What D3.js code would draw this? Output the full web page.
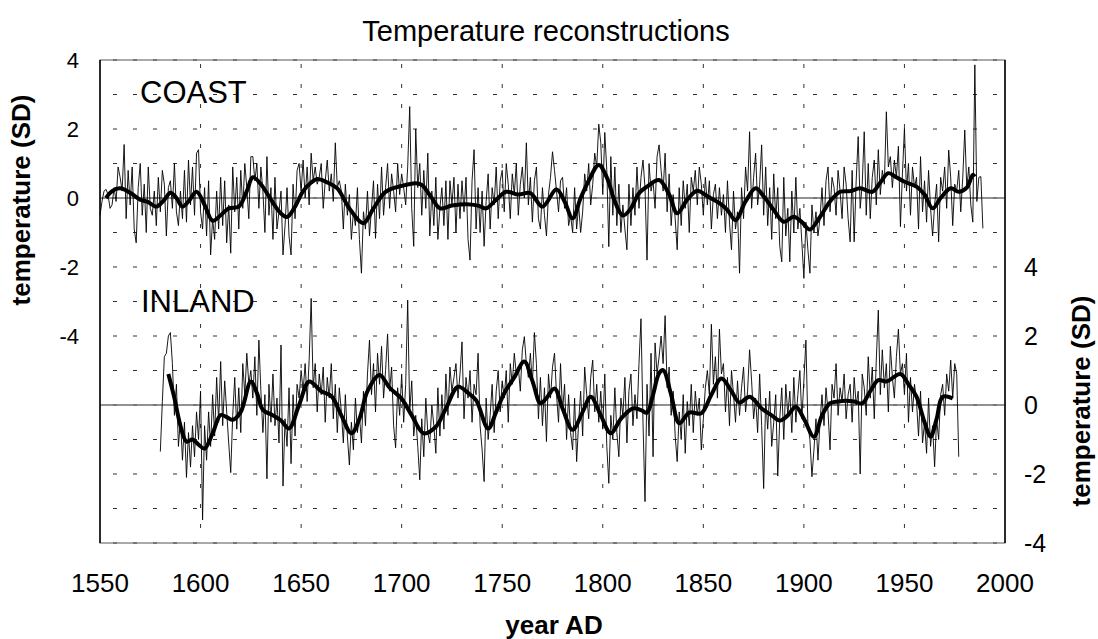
<!DOCTYPE html>
<html lang="en">
<head>
    <meta charset="UTF-8">
    <title>Temperature reconstructions</title>
    <script src="https://cdn.jsdelivr.net/npm/d3@7"></script>
    <style>
        body { margin: 0; background: #fff; }
        text { font-family: Arial, "Liberation Sans", sans-serif; fill: #000; }
    </style>
</head>
<body>
    <div id="chart"></div>
    <script>
        // annual values (SD), first year + one value per year
        const coastStart = 1550;
        const coastAnnual = [
            -0.5, -0.1, 0.2, 0.25, 0.1, -0.3, -0.2, 0.3, -0.1, 0.9,
            0.6, 0.2, 1.55, -0.6, 0.8, -0.2, 0.9, -0.9, -1.3, 0.3,
            1.0, -0.5, 0.4, -1.0, 0.9, -0.3, -0.5, 0.2, -0.8, 0.6,
            -0.4, 0.8, 0.4, -1.1, 0.3, 0.5, -0.3, 1.0, -0.4, -0.8,
            0.2, -0.6, 0.8, -0.7, 1.1, -0.2, 0.9, -0.5, 1.3, 1.4,
            -0.4, -0.9, 0.3, -1.1, 0.5, -1.65, -0.6, -1.2, 0.2, -0.9,
            0.6, -0.8, 0.5, -1.3, -0.2, -1.6, 0.9, -0.4, 0.6, -0.9,
            0.8, -0.3, 1.0, 0.3, -0.6, 1.2, 1.2, 0.5, 1.0, -0.3,
            0.9, 0.2, -1.0, 1.2, -0.5, 0.3, -1.2, 0.6, -0.9, -0.4,
            0.2, -1.65, -0.8, 0.3, -1.1, -1.65, 0.4, -0.6, 0.8, 1.0,
            0.2, 1.1, 0.0, 0.9, -0.2, 1.3, 0.5, 0.9, 0.4, 0.6,
            1.0, -0.3, 0.5, 1.1, 0.2, 0.7, -0.1, 1.6, 0.3, 0.5,
            0.2, -0.9, 0.4, -0.5, 0.1, -1.2, -0.4, -0.8, 0.3, -1.2,
            -2.18, -0.4, -0.9, 0.2, -1.1, -0.3, 0.5, -1.17, 0.4, -0.6,
            0.9, -0.5, 0.3, 1.0, -0.3, 0.7, 0.2, -0.4, 1.0, 0.1,
            0.7, 0.3, -0.2, 0.9, 2.65, -0.3, -1.4, 2.0, 0.3, 1.0,
            -0.5, 0.8, -0.3, 1.3, -1.1, 0.2, -0.8, 0.6, -1.2, -0.3,
            0.3, -0.8, 0.5, -1.2, 0.5, -0.2, 0.6, -1.0, 0.4, -0.6,
            0.5, -0.4, 0.6, -1.2, -1.8, 0.5, 1.4, -0.9, 0.3, -1.0,
            0.2, -1.4, -0.1, 0.7, -0.9, 0.3, -0.2, 0.9, -0.6, 0.5,
            0.8, -0.4, 1.0, 0.4, -0.6, 0.7, 0.1, 1.0, -0.5, 0.4,
            0.9, 0.0, 1.6, -0.2, 0.6, -0.7, 0.5, 0.9, -0.6, -0.9,
            0.3, -0.5, -1.1, 0.1, 0.6, 1.34, 0.8, 0.2, -0.4, 0.5,
            0.6, -0.3, 0.3, -0.8, -0.5, -1.0, 0.3, -0.9, -0.2, -1.0,
            -0.4, 0.7, 0.2, 1.0, -0.2, 0.4, 1.3, 0.9, 2.14, 1.6,
            0.1, 1.9, 0.8, -1.41, 1.2, -0.5, 0.9, -0.8, 0.4, -1.0,
            -0.2, -0.9, -1.5, 0.4, -0.8, 0.3, -0.5, 0.9, -0.3, 0.6,
            1.1, 0.3, -1.8, 1.0, 0.2, 0.5, -0.3, 1.2, 1.54, 0.8,
            0.2, 1.3, -0.4, 0.7, -0.8, 0.1, -0.6, -1.5, 0.3, -0.8,
            0.5, -0.3, 0.4, -1.0, 0.6, 0.2, 0.8, -0.2, 0.9, 0.4,
            -0.5, 0.6, -0.2, 0.5, -0.9, 0.1, 0.4, -0.6, 0.3, -0.5,
            0.1, -1.0, 0.5, -0.7, -1.5, 0.2, -0.9, -0.4, -2.18, 0.3,
            -0.6, 0.9, 0.2, 1.92, -0.3, 0.6, 1.3, -0.2, 0.4, 1.54,
            -0.5, 0.9, -0.8, 0.3, -1.2, 0.7, -0.6, 0.3, -1.4, -1.85,
            0.6, -1.1, -0.3, -1.85, 0.2, -1.0, 0.6, -0.9, -0.3, -1.3,
            -2.33, -0.7, -1.5, -2.18, -0.2, -1.0, -0.4, -1.1, -0.6, 0.3,
            -0.8, 0.5, 0.9, -0.4, 0.6, 0.3, -0.5, 0.8, 0.2, -0.6,
            0.9, 0.4, -0.6, -1.27, 0.8, -1.27, 0.5, 1.78, -0.3, 0.4,
            1.92, -0.5, 1.0, -0.6, 0.6, 1.1, -0.2, 1.4, 0.1, 0.8,
            0.4, 2.5, 0.9, 1.2, 0.3, 1.1, 0.6, 1.5, -0.83, 0.7,
            2.02, 0.2, 1.0, -0.5, 0.9, 0.3, 0.6, -0.9, 1.2, -0.4,
            0.5, -0.7, 0.8, -0.3, -1.1, -0.2, 0.4, -1.27, 0.6, 0.2,
            0.9, -0.3, 1.39, 0.6, -0.8, 0.4, 0.2, 0.8, -0.4, 0.6,
            1.97, 0.3, 0.9, -0.2, -0.7, 3.86, -0.1, 0.6, 0.62, -0.88
        ];

        const inlandStart = 1580;
        const inlandAnnual = [
            -1.35, 0.1, 1.4, 1.5, 2.0, 2.1, 1.2, -0.3, 0.6, -1.2,
            -0.4, -1.6, -0.5, -2.1, -0.8, -1.8, -0.6, -1.5, -0.2, -1.0,
            0.4, -3.33, -0.6, -1.6, -0.2, -1.2, 0.3, -0.9, 0.8, -0.5,
            1.26, -0.6, 0.7, -0.2, -1.1, -1.96, -0.3, 0.8, -0.7, 0.5,
            -0.8, 1.2, 0.3, 1.5, 0.6, 1.0, 0.2, 1.4, -0.3, 1.88,
            0.4, -0.8, 0.3, -2.14, 0.6, -0.5, 0.9, -0.6, 0.2, -1.1,
            1.74, -2.35, -0.4, -1.2, 0.5, -1.7, 0.3, -0.9, 0.6, 0.2,
            1.0, 0.4, 1.2, 0.1, 1.3, 3.09, 0.5, 1.2, -0.2, 0.9,
            0.3, 1.1, -0.5, 0.8, 0.2, 1.2, -0.4, 0.6, -0.8, 0.5,
            -0.2, -1.1, 0.3, -0.9, -1.74, -0.5, -1.3, 0.2, -0.8, -0.3,
            -1.1, 0.4, -0.6, 0.9, 1.88, 0.3, 1.2, -0.2, 1.5, 0.6,
            1.7, 0.2, 1.0, 2.06, 0.4, 1.1, -0.6, -1.24, 0.5, -0.3,
            0.9, -0.5, 0.6, 3.04, -0.2, 0.7, -0.9, -0.3, -1.2, -2.17,
            -0.4, -1.5, 0.2, -0.8, -1.1, 0.0, -0.6, -1.4, 0.5, -0.9,
            0.3, -0.7, 0.9, -0.3, 1.1, 0.4, 0.8, 1.2, 0.2, 0.9,
            1.83, -0.4, 0.8, 0.2, 1.0, -0.5, 0.6, 0.3, 1.5, -0.6,
            -1.3, -2.22, 0.2, -1.0, -0.3, 0.6, -0.8, 0.4, 1.0, -0.2,
            0.7, 0.2, 1.0, -0.5, 1.2, 0.6, 1.5, 0.9, 1.1, 0.4,
            1.6, 1.98, 1.2, 0.8, 1.5, 0.6, 2.1, 1.2, -0.4, 0.8,
            -0.6, 0.5, -1.06, 0.9, 0.2, 1.1, 1.5, 0.3, -0.5, 1.2,
            -0.2, 0.6, -1.0, 0.3, -0.8, -1.3, 0.2, -1.64, -0.5, 0.4,
            -0.9, 1.1, 0.3, -0.4, 0.8, 1.3, -0.2, 0.6, -0.5, 0.4,
            -0.7, 0.9, -1.2, -2.27, -0.3, -1.0, 0.5, -0.8, -1.5, 0.2,
            -0.3, 0.8, -1.1, 0.4, 0.9, -0.6, 0.3, -0.4, 1.2, 2.5,
            -0.5, -2.8, 0.6, -0.9, 1.5, -1.5, 1.8, 0.9, 1.4, 2.0,
            1.2, 2.59, 0.5, 1.1, -0.3, 0.4, -0.9, -1.64, -0.2, -1.0,
            0.3, -1.4, 0.1, -0.6, 0.6, -0.8, 0.4, -0.3, 0.2, -1.3,
            -0.4, 0.5, 1.0, 0.3, 2.34, 0.6, 1.4, 0.2, 2.2, 0.9,
            1.2, -0.2, 0.8, -0.6, 1.0, 0.3, -0.5, 0.7, -0.3, 0.5,
            1.1, -0.2, 0.4, 1.6, 0.7, -0.4, 0.2, -0.8, 0.9, -0.6,
            -2.42, 0.2, -0.7, 0.4, -1.2, -0.5, 0.3, -2.06, -0.4, 0.5,
            -1.0, 0.6, -0.3, 0.4, -0.8, 0.8, -0.5, 0.3, 1.0, -0.4,
            0.7, 1.88, -0.6, -1.0, -2.08, -1.3, -0.4, -1.6, -0.5, 0.3,
            -0.6, 0.5, -0.2, -1.3, 0.6, 0.2, 1.2, -0.3, 0.5, 0.1,
            0.9, -0.4, 0.3, 0.6, -0.5, 0.8, 0.0, 0.4, -2.0, 0.9,
            0.5, -0.3, 1.4, 0.2, 1.1, -0.4, 1.3, 2.75, 0.3, 1.6,
            0.5, 1.2, -0.2, 1.7, 0.8, 0.2, 1.4, 2.2, 0.9, 1.2,
            0.3, 1.5, -0.5, 0.8, -0.2, 0.6, 0.1, -0.9, 0.4, -1.1,
            -0.5, -1.4, 0.2, -1.2, -0.6, -1.79, -0.4, -1.0, 0.3, 0.6,
            -0.3, 0.9, 0.4, 1.3, 0.2, 1.2, 0.9, -1.5
        ];

        // smoothed curves, read as knots [year, value]
        const coastSmooth = [
            [1553, 0.0], [1556, 0.2], [1560, 0.28], [1565, 0.15], [1570, -0.05], [1574, -0.12],
            [1578, -0.25], [1582, -0.05], [1585, 0.15], [1588, 0.0], [1591, -0.25], [1594, -0.1],
            [1598, 0.18], [1602, -0.2], [1606, -0.66], [1610, -0.5], [1614, -0.3], [1619, -0.25],
            [1623, 0.2], [1626, 0.6], [1630, 0.4], [1635, -0.05], [1640, -0.45], [1643, -0.55],
            [1647, -0.25], [1651, 0.2], [1655, 0.45], [1658, 0.55], [1663, 0.45], [1668, 0.28],
            [1674, -0.3], [1681, -0.73], [1686, -0.3], [1692, 0.18], [1700, 0.35], [1707, 0.43],
            [1710, 0.38], [1715, 0.0], [1719, -0.3], [1725, -0.22], [1732, -0.18], [1738, -0.22],
            [1742, -0.3], [1747, -0.05], [1752, 0.18], [1758, 0.1], [1764, 0.14], [1770, -0.25],
            [1777, 0.25], [1781, -0.1], [1785, -0.59], [1789, 0.0], [1793, 0.5], [1798, 0.96],
            [1802, 0.6], [1806, -0.1], [1810, -0.51], [1814, -0.3], [1818, 0.14], [1822, 0.33],
            [1828, 0.52], [1833, 0.1], [1837, -0.44], [1842, -0.05], [1847, 0.21], [1852, 0.05],
            [1858, -0.15], [1862, -0.35], [1866, -0.64], [1871, -0.1], [1876, 0.28], [1880, 0.05],
            [1885, -0.35], [1890, -0.69], [1895, -0.54], [1899, -0.7], [1903, -0.91], [1908, -0.55],
            [1913, -0.1], [1918, 0.18], [1923, 0.2], [1928, 0.28], [1934, 0.18], [1938, 0.45],
            [1942, 0.72], [1946, 0.6], [1950, 0.47], [1956, 0.33], [1960, 0.1], [1964, -0.3],
            [1968, 0.0], [1973, 0.28], [1977, 0.18], [1981, 0.3], [1984, 0.67], [1985, 0.62]
        ];

        const inlandSmooth = [
            [1584, 0.9], [1587, 0.2], [1590, -0.6], [1593, -1.06], [1596, -1.0], [1599, -1.15],
            [1602, -1.26], [1606, -0.82], [1610, -0.29], [1613, -0.35], [1616, -0.43], [1620, -0.2],
            [1625, 0.68], [1628, 0.35], [1631, -0.14], [1636, -0.3], [1640, -0.45], [1644, -0.68],
            [1649, 0.0], [1654, 0.68], [1660, 0.4], [1665, 0.26], [1670, -0.3], [1675, -0.82],
            [1679, -0.4], [1683, 0.4], [1689, 0.87], [1694, 0.5], [1700, 0.18], [1705, -0.3],
            [1711, -0.82], [1717, -0.63], [1722, -0.1], [1728, 0.53], [1733, 0.35], [1737, 0.14],
            [1743, -0.68], [1747, -0.2], [1751, 0.34], [1756, 0.8], [1761, 1.26], [1765, 0.7],
            [1769, 0.05], [1772, 0.2], [1776, 0.48], [1780, -0.1], [1785, -0.72], [1790, -0.2],
            [1794, 0.24], [1799, -0.3], [1804, -0.82], [1809, -0.4], [1815, -0.1], [1819, -0.15],
            [1822, -0.22], [1825, 0.3], [1828, 0.92], [1830, 1.01], [1834, 0.3], [1838, -0.53],
            [1843, -0.22], [1849, -0.24], [1854, 0.3], [1859, 0.77], [1864, 0.4], [1868, 0.07],
            [1873, 0.24], [1879, -0.1], [1884, -0.3], [1888, -0.45], [1892, -0.3], [1896, -0.05],
            [1900, -0.4], [1905, -0.92], [1909, -0.3], [1913, 0.05], [1917, 0.1], [1921, 0.12],
            [1925, 0.1], [1929, 0.05], [1933, 0.4], [1937, 0.72], [1941, 0.68], [1948, 0.9],
            [1952, 0.6], [1956, 0.24], [1960, -0.5], [1963, -0.92], [1966, -0.4], [1969, 0.24],
            [1974, 0.19]
        ];

        const xTicks = [1550, 1600, 1650, 1700, 1750, 1800, 1850, 1900, 1950, 2000];
        const leftTicks = [4, 2, 0, -2, -4];
        const rightTicks = [4, 2, 0, -2, -4];

        // canvas
        const W = 1098, H = 639;
        const plot = { left: 100, right: 1005, top: 60, bottom: 543 };

        const svg = d3.select("#chart").append("svg")
            .attr("width", W)
            .attr("height", H);

        // scales: left axis = coast, right axis = inland
        const x = d3.scaleLinear().domain([1550, 2000]).range([plot.left, plot.right]);
        const yL = d3.scaleLinear().domain([-10, 4]).range([plot.bottom, plot.top]);
        const yR = d3.scaleLinear().domain([-4, 10]).range([plot.bottom, plot.top]);

        // dashed grid
        const grid = svg.append("g");
        grid.selectAll(".hgrid")
            .data(d3.range(-10, 5))
            .enter().append("line")
            .attr("x1", plot.left).attr("x2", plot.right)
            .attr("y1", d => yL(d)).attr("y2", d => yL(d))
            .attr("stroke", "#333")
            .attr("stroke-width", 1)
            .attr("stroke-dasharray", "4,16")
            .attr("stroke-dashoffset", -13);
        grid.selectAll(".vgrid")
            .data(xTicks.slice(1, -1))
            .enter().append("line")
            .attr("x1", d => x(d)).attr("x2", d => x(d))
            .attr("y1", plot.top).attr("y2", plot.bottom)
            .attr("stroke", "#333")
            .attr("stroke-width", 1)
            .attr("stroke-dasharray", "4,16")
            .attr("stroke-dashoffset", -4);

        // zero lines
        svg.append("line")
            .attr("x1", plot.left).attr("x2", plot.right)
            .attr("y1", yL(0)).attr("y2", yL(0))
            .attr("stroke", "#6e6e6e").attr("stroke-width", 1.5);
        svg.append("line")
            .attr("x1", plot.left).attr("x2", plot.right)
            .attr("y1", yR(0)).attr("y2", yR(0))
            .attr("stroke", "#6e6e6e").attr("stroke-width", 1.5);

        // frame
        svg.append("rect")
            .attr("x", plot.left).attr("y", plot.top)
            .attr("width", plot.right - plot.left)
            .attr("height", plot.bottom - plot.top)
            .attr("fill", "none")
            .attr("stroke", "#555")
            .attr("stroke-width", 1);
        svg.append("line")
            .attr("x1", plot.left).attr("x2", plot.left)
            .attr("y1", plot.top).attr("y2", plot.bottom)
            .attr("stroke", "#000").attr("stroke-width", 1.5);
        svg.append("line")
            .attr("x1", plot.right).attr("x2", plot.right)
            .attr("y1", plot.top).attr("y2", plot.bottom)
            .attr("stroke", "#000").attr("stroke-width", 1.5);

        // annual series (thin)
        const coastPts = coastAnnual.map((v, i) => [coastStart + i, v]);
        const inlandPts = inlandAnnual.map((v, i) => [inlandStart + i, v]);

        svg.append("path")
            .datum(coastPts)
            .attr("fill", "none")
            .attr("stroke", "#000")
            .attr("stroke-width", 0.9)
            .attr("d", d3.line().x(d => x(d[0])).y(d => yL(d[1])));
        svg.append("path")
            .datum(inlandPts)
            .attr("fill", "none")
            .attr("stroke", "#000")
            .attr("stroke-width", 0.9)
            .attr("d", d3.line().x(d => x(d[0])).y(d => yR(d[1])));

        // smoothed series (thick)
        svg.append("path")
            .datum(coastSmooth)
            .attr("fill", "none")
            .attr("stroke", "#000")
            .attr("stroke-width", 4)
            .attr("stroke-linejoin", "round")
            .attr("d", d3.line().curve(d3.curveCatmullRom.alpha(0.5)).x(d => x(d[0])).y(d => yL(d[1])));
        svg.append("path")
            .datum(inlandSmooth)
            .attr("fill", "none")
            .attr("stroke", "#000")
            .attr("stroke-width", 4)
            .attr("stroke-linejoin", "round")
            .attr("d", d3.line().curve(d3.curveCatmullRom.alpha(0.5)).x(d => x(d[0])).y(d => yR(d[1])));

        // tick labels
        svg.selectAll(".xlab")
            .data(xTicks)
            .enter().append("text")
            .attr("x", d => x(d))
            .attr("y", 592)
            .attr("text-anchor", "middle")
            .style("font-size", "26px")
            .text(d => d);

        svg.selectAll(".ylabL")
            .data(leftTicks)
            .enter().append("text")
            .attr("x", 79)
            .attr("y", d => yL(d))
            .attr("dy", "0.35em")
            .attr("text-anchor", "end")
            .style("font-size", "22px")
            .text(d => d);

        svg.selectAll(".ylabR")
            .data(rightTicks)
            .enter().append("text")
            .attr("x", 1024)
            .attr("y", d => yR(d))
            .attr("dy", "0.35em")
            .attr("text-anchor", "start")
            .style("font-size", "25px")
            .text(d => d);

        // titles
        svg.append("text")
            .attr("x", 546).attr("y", 41)
            .attr("text-anchor", "middle")
            .style("font-size", "29px")
            .text("Temperature reconstructions");

        svg.append("text")
            .attr("x", 554).attr("y", 634)
            .attr("text-anchor", "middle")
            .style("font-size", "26px")
            .style("font-weight", "bold")
            .text("year AD");

        svg.append("text")
            .attr("transform", "translate(30,200) rotate(-90)")
            .attr("text-anchor", "middle")
            .style("font-size", "26px")
            .style("font-weight", "bold")
            .text("temperature (SD)");

        svg.append("text")
            .attr("transform", "translate(1090,401) rotate(-90)")
            .attr("text-anchor", "middle")
            .style("font-size", "26px")
            .style("font-weight", "bold")
            .text("temperature (SD)");

        // panel labels
        svg.append("text")
            .attr("x", 140).attr("y", 103)
            .style("font-size", "31px")
            .text("COAST");
        svg.append("text")
            .attr("x", 141).attr("y", 312)
            .style("font-size", "31px")
            .text("INLAND");
    </script>
</body>
</html>
